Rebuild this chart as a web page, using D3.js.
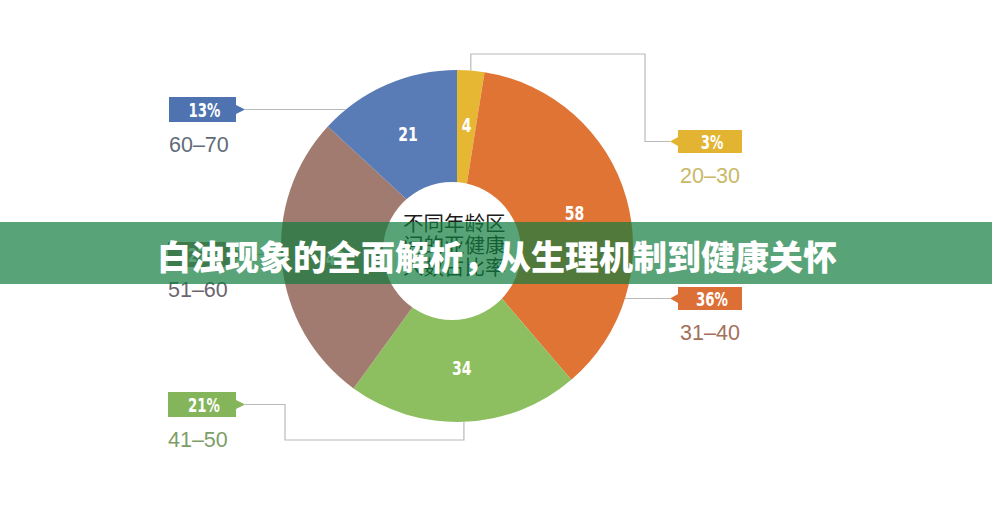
<!DOCTYPE html>
<html><head><meta charset="utf-8">
<script src="https://cdn.jsdelivr.net/npm/d3@7"></script>
<style>body{margin:0;background:#fff;} svg{display:block;}</style>
</head><body><svg id="c" width="992" height="508"></svg>
<script>
// ---- data ----
const categories = ["20–30","31–40","41–50","51–60","60–70"];
const values = [4,58,34,43,21];
const sliceColors = ["#e6b733","#e07434","#8dbe60","#a17b6f","#5a7cb6"];
const badgeColors = ["#e3b431","#dc6f35","#84b55a","#a07a6e","#4f72b0"];
const rangeTextColors = ["#c8b867","#a3705a","#7c9d66","#6b6470","#5f6b7a"];
const centerTitle = ["不同年龄区","间的亚健康","人数占比率"];
const bannerTitle = "白浊现象的全面解析，从生理机制到健康关怀";

// ---- layout ----
const W=992,H=508, cx=457, cy=246, R=176;
const layout = [
  {side:"right", bx:678, by:130, bw:64, bh:23, route:"elbowTop"},
  {side:"right", bx:678, by:287, bw:64, bh:23, route:"flat"},
  {side:"left",  bx:168, by:392, bw:68, bh:25, route:"elbowBottom"},
  {side:"left",  bx:168, by:242, bw:68, bh:25, route:"flat"},
  {side:"left",  bx:169, by:97,  bw:67, bh:25, route:"flat"}
];
const narrowFont="'DejaVu Sans Condensed','Liberation Sans Narrow',sans-serif";

const svg=d3.select("#c");
svg.append("rect").attr("width",W).attr("height",H).attr("fill","#fff");

const total=d3.sum(values);
const pie=d3.pie().sort(null).value(d=>d);
const arcs=pie(values);
const arc=d3.arc().innerRadius(0).outerRadius(R);
const labelArc=d3.arc().innerRadius(122).outerRadius(122);

const g=svg.append("g").attr("transform",`translate(${cx},${cy})`);
g.selectAll("path.slice").data(arcs).join("path").attr("class","slice")
  .attr("d",arc).attr("fill",(d,i)=>sliceColors[i]);
// donut hole
svg.append("circle").attr("cx",452).attr("cy",251).attr("r",69).attr("fill","#fff");

g.selectAll("text.val").data(arcs).join("text").attr("class","val")
  .attr("transform",d=>`translate(${labelArc.centroid(d)}) scale(0.78,1)`)
  .attr("text-anchor","middle").attr("dominant-baseline","central")
  .attr("font-family",narrowFont)
  .attr("font-weight","bold").attr("font-size",20).attr("fill","#fff")
  .text(d=>d.data);

// center title
svg.append("g").selectAll("text").data(centerTitle).join("text")
  .attr("x",403).attr("y",(d,i)=>222+i*22).attr("dominant-baseline","central")
  .attr("font-family","'Noto Sans CJK SC',sans-serif").attr("font-size",20.5)
  .attr("fill","#1c1c1c").text(d=>d);

// annotations
const ann=svg.append("g");
const fmtPct=v=>Math.round(v/total*100)+"%";
arcs.forEach((a,i)=>{
  const L=layout[i];
  const midY=L.by+L.bh/2;
  const tipX = L.side==="left" ? L.bx+L.bw+9 : L.bx-8;
  let pts;
  const mid=(a.startAngle+a.endAngle)/2;
  const ex=cx+R*Math.sin(mid), ey=cy-R*Math.cos(mid);
  if(L.route==="flat"){
    const dx=Math.sqrt(R*R-(midY-cy)*(midY-cy));
    const x0 = L.side==="left" ? cx-dx : cx+dx;
    pts=[[x0,midY],[tipX,midY]];
  } else if(L.route==="elbowTop"){
    pts=[[ex,ey],[ex,54],[645,54],[645,midY],[tipX,midY]];
  } else {
    pts=[[ex,ey],[ex,440],[285,440],[285,midY],[tipX,midY]];
  }
  ann.append("path").attr("d",d3.line()(pts)).attr("fill","none")
    .attr("stroke","#b9b9b9").attr("stroke-width",1.2);
  // badge
  const tri = L.side==="left"
    ? [[L.bx+L.bw-1,midY-5],[tipX,midY],[L.bx+L.bw-1,midY+5]]
    : [[L.bx+1,midY-5],[tipX,midY],[L.bx+1,midY+5]];
  ann.append("rect").attr("x",L.bx).attr("y",L.by).attr("width",L.bw).attr("height",L.bh)
    .attr("fill",badgeColors[i]);
  ann.append("path").attr("d",d3.line()(tri)+"Z").attr("fill",badgeColors[i]);
  ann.append("text")
    .attr("transform",`translate(${L.bx+L.bw/2+2},${midY+1}) scale(0.78,1)`)
    .attr("text-anchor","middle").attr("dominant-baseline","central")
    .attr("font-family",narrowFont)
    .attr("font-weight","bold").attr("font-size",19).attr("fill","#fff")
    .text(fmtPct(a.data));
  ann.append("text")
    .attr("x", L.side==="left" ? L.bx : L.bx+L.bw/2)
    .attr("y", L.by + (L.side==="left"?55:53))
    .attr("text-anchor", L.side==="left" ? "start" : "middle")
    .attr("font-family","'Liberation Sans',Arial,sans-serif").attr("font-size",21.5)
    .attr("fill",rangeTextColors[i]).text(categories[i]);
});

// banner overlay
svg.append("rect").attr("x",0).attr("y",222).attr("width",W).attr("height",62)
  .attr("fill","rgba(19,124,62,0.7)");
svg.append("text").attr("x",497).attr("y",255).attr("text-anchor","middle")
  .attr("dominant-baseline","central")
  .attr("font-family","'Noto Sans CJK SC',sans-serif").attr("font-weight",900)
  .attr("font-size",34).attr("fill","#fff").text(bannerTitle);
</script></body></html>
